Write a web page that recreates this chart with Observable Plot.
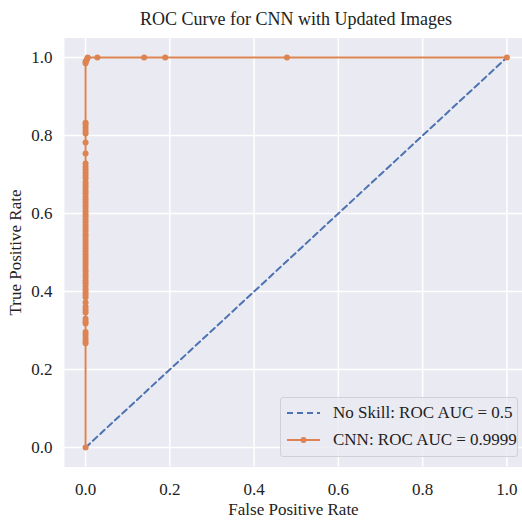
<!DOCTYPE html>
<html><head><meta charset="utf-8">
<script src="https://cdn.jsdelivr.net/npm/d3@7"></script>
<script src="https://cdn.jsdelivr.net/npm/@observablehq/plot@0.6"></script>
<style>
body{margin:0;background:#fff;font-family:"Liberation Serif","Times New Roman",serif;}
#wrap{position:relative;width:522px;height:521px;overflow:hidden;}
#title{position:absolute;left:0;top:9px;width:592px;text-align:center;font-size:18px;color:#222;}
#chart{position:absolute;left:0;top:30px;}
#legend{position:absolute;left:280px;top:397px;width:238px;height:60px;background:rgba(234,234,242,0.8);border:1px solid #d0d0d8;border-radius:3px;box-sizing:border-box;font-size:17px;color:#222;}
.row{position:absolute;left:5px;height:20px;display:flex;align-items:center;}
.row svg{margin-right:12px;}
</style>
</head><body>
<div id="wrap">
<div id="title">ROC Curve for CNN with Updated Images</div>
<div id="chart"></div>
<div id="legend">
  <div class="row" style="top:5px"><svg width="35" height="10"><line x1="1" y1="5" x2="34" y2="5" stroke="#4c72b0" stroke-width="2" stroke-dasharray="6,4"/></svg><span>No Skill: ROC AUC = 0.5</span></div>
  <div class="row" style="top:32px"><svg width="35" height="10"><line x1="1" y1="5" x2="34" y2="5" stroke="#dd8452" stroke-width="2"/><circle cx="17.5" cy="5" r="3" fill="#dd8452"/></svg><span>CNN: ROC AUC = 0.9999</span></div>
</div>
</div>
<script>
const noSkillFpr = [0, 1];
const noSkillTpr = [0, 1];

const cnnFpr = [
  0,0,0,0,0,0,0,0,0,0,0,0,0,0,0,0,0,0,0,0,0,0,0,0,0,0,0,0,0,0,0,0,0,0,0,0,0,0,0,0,
  0,0,0,0,0,0,0,0,0,0,0,0,0,0,0,0,0,0,0,0,0,0,0,0,0,0,0,0,0,
  0.002,0.004,0.005,0.028,0.139,0.189,0.478,1.0
];
const cnnTpr = [
  0.0,0.267,0.274,0.281,0.289,0.296,0.318,0.323,0.330,0.346,0.353,0.361,0.372,0.385,0.392,0.399,0.406,0.414,0.421,0.428,
  0.436,0.443,0.451,0.458,0.466,0.473,0.481,0.488,0.495,0.503,0.510,0.518,0.525,0.532,0.540,0.547,0.555,0.562,0.569,0.577,
  0.584,0.592,0.599,0.606,0.614,0.621,0.629,0.636,0.643,0.651,0.658,0.666,0.673,0.680,0.690,0.697,0.705,0.712,0.720,0.728,
  0.754,0.782,0.805,0.812,0.820,0.828,0.833,0.985,0.990,
  0.992,0.997,1.0,1.0,1.0,1.0,1.0,1.0
];
const ticks = [0, 0.2, 0.4, 0.6, 0.8, 1.0];

const noSkill = noSkillFpr.map((f, i) => ({fpr: f, tpr: noSkillTpr[i]}));
const cnn = cnnFpr.map((f, i) => ({fpr: f, tpr: cnnTpr[i]}));

const chart = Plot.plot({
  width: 522,
  height: 491,
  marginLeft: 64,
  marginRight: 0,
  marginTop: 7.5,
  marginBottom: 54.5,
  style: {fontFamily: '"Liberation Serif","Times New Roman",serif', fontSize: "17px", color: "#222", background: "transparent"},
  x: {domain: [-0.05, 1.037], ticks: ticks, tickFormat: d3.format(".1f"), tickSize: 0, tickPadding: 16, label: "False Positive Rate", labelAnchor: "center", labelArrow: "none", labelOffset: 48},
  y: {domain: [-0.05, 1.05], ticks: ticks, tickFormat: d3.format(".1f"), tickSize: 0, tickPadding: 12, label: "True Positive Rate", labelAnchor: "center", labelArrow: "none", labelOffset: 56},
  marks: [
    Plot.frame({fill: "#eaeaf2", stroke: "none"}),
    Plot.gridX(ticks, {stroke: "#fff", strokeOpacity: 1, strokeWidth: 1.5}),
    Plot.gridY(ticks, {stroke: "#fff", strokeOpacity: 1, strokeWidth: 1.5}),
    Plot.line(noSkill, {x: "fpr", y: "tpr", stroke: "#4c72b0", strokeWidth: 2, strokeDasharray: "6,4"}),
    Plot.line(cnn, {x: "fpr", y: "tpr", stroke: "#dd8452", strokeWidth: 2}),
    Plot.dot(cnn, {x: "fpr", y: "tpr", r: 3, fill: "#dd8452", stroke: "none"})
  ]
});
document.getElementById("chart").appendChild(chart);
</script>
</body></html>
